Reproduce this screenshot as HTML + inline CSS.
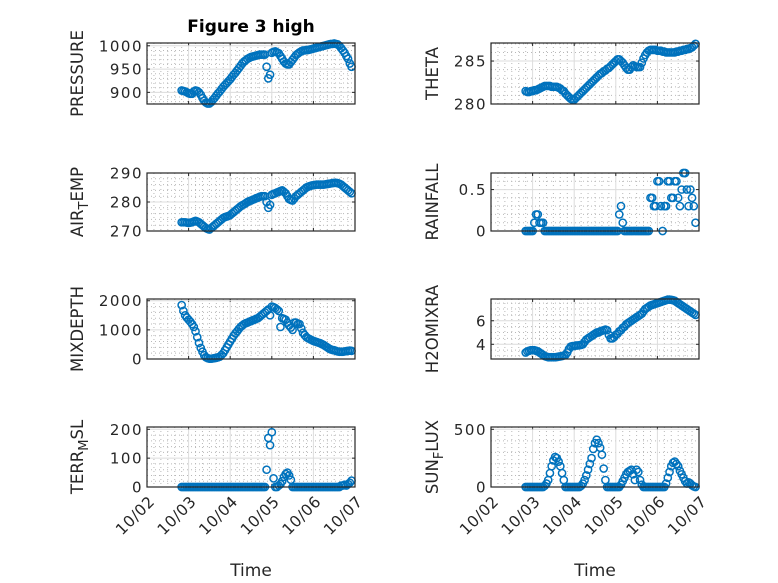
<!DOCTYPE html>
<html><head><meta charset="utf-8"><style>
html,body{margin:0;padding:0;background:#fff;}
svg{display:block;font-family:"DejaVu Sans","Liberation Sans",sans-serif;}
</style></head><body>
<svg id="fig" width="778" height="583" viewBox="0 0 778 583" xmlns="http://www.w3.org/2000/svg">
<rect width="778" height="583" fill="#fff"/>
<text x="251" y="32" text-anchor="middle" font-size="17" font-weight="bold" fill="#000">Figure 3 high</text>
</svg>
<script>
// hours since 10/02 00:00
const hours = [20,21,22,23,24,25,26,27,28,29,30,31,32,33,34,35,36,37,38,39,40,41,42,43,44,45,46,47,48,49,50,51,52,53,54,55,56,57,58,59,60,61,62,63,64,65,66,67,68,69,70,71,72,73,74,75,76,77,78,79,80,81,82,83,84,85,86,87,88,89,90,91,92,93,94,95,96,97,98,99,100,101,102,103,104,105,106,107,108,109,110,111,112,113,114,115,116,117,118];
const xTickLabels = ["10/02","10/03","10/04","10/05","10/06","10/07"];
const pressure = [904,903,902,900,898,897,897,902,904,903,
900,895,888,882,878,876,876,879,884,888,
893,898,902,907,912,916,920,924,928,933,
938,942,947,952,957,962,966,969,972,974,
976,977,978,979,980,981,981,981,981,955,
930,938,985,987,988,986,984,978,972,966,
962,960,960,965,970,975,980,983,986,988,
990,990,991,991,992,993,994,995,996,997,
998,999,1000,1001,1002,1003,1004,1004,1005,1004,
1003,1000,995,990,985,978,972,962,955];
const airTemp = [273,273,273,272.9,272.8,272.9,273,273.3,273.5,273.3,
273,272.5,272,271.5,271,270.7,270.5,271,271.5,272,
272.5,273,273.5,274,274.5,274.8,275,275.2,275.5,276,
276.5,277,277.5,278,278.5,278.9,279.2,279.6,280,280.3,
280.5,280.8,281,281.3,281.5,281.8,282,282,282,280,
278,279,282.5,282.8,283,283.3,283.5,283.8,284,283.5,
283,282,281,280.7,280.5,281.2,282,282.5,283,283.5,
284,284.5,285,285.3,285.5,285.7,285.8,285.9,286,286,
286,286,286,286.1,286.2,286.3,286.4,286.5,286.6,286.6,
286.5,286.3,286,285.5,285,284.5,284,283.5,283];
const mixDepth = [1850,1650,1500,1420,1350,1280,1200,1100,950,750,
550,380,250,130,60,30,10,10,20,30,
40,60,80,140,200,300,400,500,600,700,
800,880,950,1030,1100,1150,1200,1230,1250,1280,
1300,1330,1350,1380,1400,1450,1500,1550,1600,1650,
1700,1500,1800,1780,1750,1700,1650,1100,1400,1380,
1350,1250,1150,1080,1000,1250,1250,1200,1200,1050,
900,820,750,710,680,650,620,600,580,560,
540,510,480,440,400,360,330,310,300,280,
260,250,250,250,260,270,280,290,280];
const terrMsl = [0,0,0,0,0,0,0,0,0,0,
0,0,0,0,0,0,0,0,0,0,
0,0,0,0,0,0,0,0,0,0,
0,0,0,0,0,0,0,0,0,0,
0,0,0,0,0,0,0,0,0,60,
170,145,190,30,0,0,5,10,20,35,
45,50,40,25,0,0,0,0,0,0,
0,0,0,0,0,0,0,0,0,0,
0,0,0,0,0,0,0,0,0,0,
0,0,5,5,8,5,10,15,22];
const theta = [281.5,281.4,281.4,281.5,281.5,281.6,281.6,281.7,281.8,281.9,
282,282.1,282.1,282.1,282.1,282,282,282,282,281.9,
281.8,281.6,281.5,281.2,281,280.8,280.6,280.5,280.5,280.7,
280.9,281.1,281.3,281.5,281.7,281.9,282.1,282.3,282.5,282.7,
282.9,283.1,283.3,283.5,283.6,283.8,283.9,284.1,284.2,284.4,
284.6,284.8,285,285.2,285.2,285,284.8,284.5,284.2,284,
284,284.3,284.5,284.4,284.3,284.3,284.3,284.8,285.3,285.7,
286,286.2,286.3,286.3,286.3,286.3,286.2,286.2,286.2,286.1,
286.1,286,286,286,286,286,286,286.1,286.1,286.2,
286.2,286.3,286.3,286.4,286.4,286.5,286.6,286.8,287];
const rainfall = [0,0,0,0,0,0.1,0.2,0.2,0.1,0.1,
0.1,0,0,0,0,0,0,0,0,0,
0,0,0,0,0,0,0,0,0,0,
0,0,0,0,0,0,0,0,0,0,
0,0,0,0,0,0,0,0,0,0,
0,0,0,0,0.2,0.3,0.1,0,0,0,
0,0,0,0,0,0,0,0,0,0,
0,0,0.4,0.4,0.3,0.3,0.6,0.6,0.3,0,
0.3,0.3,0.6,0.6,0.4,0.4,0.6,0.6,0.4,0.3,
0.5,0.7,0.7,0.5,0.3,0.5,0.4,0.3,0.1];
const h2oMix = [3.3,3.4,3.45,3.5,3.5,3.5,3.45,3.4,3.3,3.2,
3.1,3.0,2.95,2.9,2.9,2.9,2.9,2.9,2.92,2.95,
2.97,3.0,3.05,3.1,3.3,3.6,3.8,3.85,3.85,3.9,
3.9,3.92,3.95,4.0,4.2,4.4,4.5,4.6,4.7,4.8,
4.9,5.0,5.0,5.1,5.15,5.2,5.25,5.2,4.8,4.5,
4.5,4.6,4.8,4.9,5.1,5.2,5.4,5.5,5.7,5.8,
5.9,6.0,6.1,6.2,6.3,6.4,6.5,6.6,6.8,7.0,
7.1,7.2,7.3,7.35,7.4,7.45,7.5,7.55,7.6,7.65,
7.7,7.75,7.8,7.8,7.78,7.75,7.7,7.6,7.5,7.4,
7.3,7.2,7.1,7.0,6.9,6.8,6.7,6.6,6.5];
const sunFlux = [0,0,0,0,0,0,0,0,0,0,
0,10,30,60,120,180,230,260,250,220,
180,120,60,0,0,0,0,0,0,0,
0,0,10,30,60,100,150,200,250,330,
380,410,380,340,280,160,60,0,0,0,
0,0,0,0,0,20,50,80,110,130,
140,150,110,60,150,130,60,20,0,0,
0,0,0,0,0,0,0,0,0,0,
0,30,80,130,180,210,220,200,180,140,
110,80,50,30,40,30,15,5,0];
const pressureTicks = [900,950,1000];
const airTempTicks = [270,280,290];
const mixDepthTicks = [0,1000,2000];
const terrMslTicks = [0,100,200];
const thetaTicks = [280,285];
const rainfallTicks = [0,0.5];
const h2oTicks = [4,6];
const sunTicks = [0,500];

const NS = "http://www.w3.org/2000/svg";
const svg = document.getElementById('fig');
function mk(tag, attrs, parent){
  const e = document.createElementNS(NS, tag);
  for (const k in attrs) e.setAttribute(k, attrs[k]);
  (parent||svg).appendChild(e);
  return e;
}
const LEFT = [147,355], RIGHT = [491,699];
const ROWS = [[43,104],[173,231],[299,359],[427,487]];
const panels = [
  {id:'pressure', col:LEFT, row:0, data:pressure, ticks:pressureTicks, dom:[875,1006], minor:10, label:['PRESSURE']},
  {id:'air-temp', col:LEFT, row:1, data:airTemp, ticks:airTempTicks, dom:[270,290], minor:2, label:['AIR','T','EMP']},
  {id:'mixdepth', col:LEFT, row:2, data:mixDepth, ticks:mixDepthTicks, dom:[0,2060], minor:200, label:['MIXDEPTH']},
  {id:'terr-msl', col:LEFT, row:3, data:terrMsl, ticks:terrMslTicks, dom:[0,208], minor:20, label:['TERR','M','SL']},
  {id:'theta', col:RIGHT, row:0, data:theta, ticks:thetaTicks, dom:[280,287.1], minor:1, label:['THETA']},
  {id:'rainfall', col:RIGHT, row:1, data:rainfall, ticks:rainfallTicks, dom:[0,0.7], minor:0.1, label:['RAINFALL']},
  {id:'h2omixra', col:RIGHT, row:2, data:h2oMix, ticks:h2oTicks, dom:[2.75,7.85], minor:0.5, label:['H2OMIXRA']},
  {id:'sun-flux', col:RIGHT, row:3, data:sunFlux, ticks:sunTicks, dom:[0,520], minor:100, label:['SUN','F','LUX']}
];
panels.forEach(p=>{
  const [x0,x1] = p.col, [y0,y1] = ROWS[p.row];
  const xs = h => x0 + (h/24)/5*(x1-x0);
  const ys = v => y1 - (v-p.dom[0])/(p.dom[1]-p.dom[0])*(y1-y0);
  const g = mk('g', {});
  
  
  mk('rect',{x:x0,y:y0,width:x1-x0,height:y1-y0,fill:'#fff'},g);
  for(let k=1;k<30;k++){ if(k%6===0) continue; const x=x0+k/30*(x1-x0);
    mk('line',{x1:x,x2:x,y1:y0,y2:y1,stroke:'#b8b8b8','stroke-width':1,'stroke-dasharray':'1 3'},g);}
  const m0 = Math.ceil(p.dom[0]/p.minor);
  for(let k=m0; k*p.minor<=p.dom[1]; k++){ const v=k*p.minor; const y=ys(v);
    if (p.ticks.some(t=>Math.abs(t-v)<1e-9)) continue;
    mk('line',{x1:x0,x2:x1,y1:y,y2:y,stroke:'#b8b8b8','stroke-width':1,'stroke-dasharray':'1 3'},g);}
  for(let d=1; d<5; d++){ const x=x0+d/5*(x1-x0);
    mk('line',{x1:x,x2:x,y1:y0,y2:y1,stroke:'#dcdcdc','stroke-width':1},g);
    mk('line',{x1:x,x2:x,y1:y1,y2:y1-3,stroke:'#262626','stroke-width':1},g);
    mk('line',{x1:x,x2:x,y1:y0,y2:y0+3,stroke:'#262626','stroke-width':1},g);}
  p.ticks.forEach(t=>{ const y=ys(t);
    mk('line',{x1:x0,x2:x1,y1:y,y2:y,stroke:'#dcdcdc','stroke-width':1},g);
    mk('line',{x1:x0,x2:x0+3,y1:y,y2:y,stroke:'#262626','stroke-width':1},g);
    mk('line',{x1:x1,x2:x1-3,y1:y,y2:y,stroke:'#262626','stroke-width':1},g);
    const tl = mk('text',{x:x0-4,y:y+5.5,'text-anchor':'end','font-size':15,'letter-spacing':1.5,fill:'#262626'},g);
    
    
    tl.textContent = String(t);
  });
  const n = Math.min(hours.length, p.data.length);
  for (let i=0;i<n;i++){
    const c = mk('circle',{cx:xs(hours[i]),cy:ys(p.data[i]),r:3.6,fill:'none',stroke:'#0072BD','stroke-width':1.5},g);
    
    
  }
  mk('rect',{x:x0,y:y0,width:x1-x0,height:y1-y0,fill:'none',stroke:'#262626','stroke-width':1.2},g);
  const lx = p.col===LEFT ? 83 : 438, ly = (y0+y1)/2;
  const yl = mk('text',{x:lx,y:ly,'text-anchor':'middle','font-size':16.5,fill:'#262626',transform:`rotate(-90 ${lx} ${ly})`},g);
  
  
  if (p.label.length===1) yl.textContent = p.label[0];
  else {
    const a = mk('tspan',{},yl); a.textContent=p.label[0];
    const b = mk('tspan',{dy:5,'font-size':13},yl); b.textContent=p.label[1];
    const c = mk('tspan',{dy:-5},yl); c.textContent=p.label[2];
  }
  if (p.row===3){
    xTickLabels.forEach((lab,d)=>{
      const x = x0 + d/5*(x1-x0), y = y1+12;
      const t = mk('text',{x:x+5,y:y+5,'text-anchor':'end','font-size':15.5,'letter-spacing':0.5,fill:'#262626',transform:`rotate(-45 ${x+5} ${y})`},g);
      
      
      t.textContent = lab;
    });
    const xt = mk('text',{x:(x0+x1)/2,y:576,'text-anchor':'middle','font-size':17,fill:'#262626'},g);
    
    
    xt.textContent = 'Time';
  }
});
</script>
</body></html>
